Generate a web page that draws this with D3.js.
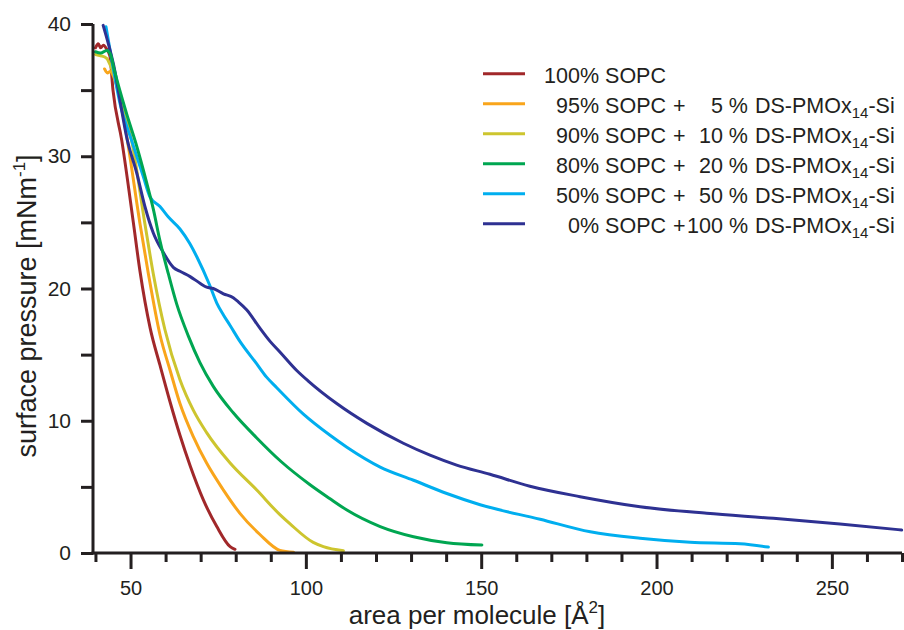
<!DOCTYPE html>
<html>
<head>
<meta charset="utf-8">
<script src="https://cdn.jsdelivr.net/npm/d3@7"></script>
<style>
  html, body { margin: 0; padding: 0; background: #fff; }
  svg text { font-family: "Liberation Sans", Arial, sans-serif; fill: #231f20; }
</style>
</head>
<body>
<svg id="chart" width="904" height="630"></svg>
<script>
// ---------------- data ----------------
const sopcPct = [100, 95, 90, 80, 50, 0];
const dsPct   = [null, 5, 10, 20, 50, 100];
const seriesColors = ["#a1282a", "#f9a51b", "#cdc52e", "#00a651", "#00aeef", "#2e3192"];

const sopc100X = [40.0, 40.8, 41.5, 42.3, 43.2, 44.1, 45.0, 47.5, 50.8, 52.7, 55.6, 58.4, 61.3, 64.1, 67.0, 70.8, 74.6, 78.4, 79.8];
const sopc100Y = [38.2, 38.5, 38.2, 38.4, 38.1, 37.6, 35.0, 31.2, 25.0, 21.3, 17.0, 14.2, 11.4, 8.9, 6.6, 4.0, 2.0, 0.48, 0.28];

const ds5X = [42.6, 43.4, 44.2, 45.5, 47.0, 49.1, 52.7, 55.1, 58.4, 61.3, 64.1, 67.9, 71.7, 76.5, 81.2, 86.9, 92.6, 96.5];
const ds5Y = [36.6, 36.3, 36.4, 35.8, 34.4, 31.2, 24.9, 21.1, 16.5, 13.8, 11.3, 8.8, 6.8, 4.76, 3.0, 1.4, 0.2, 0.05];

const ds10X = [40.0, 41.5, 43.2, 44.2, 45.5, 47.0, 50.3, 54.1, 56.5, 59.8, 64.1, 67.9, 71.7, 78.4, 86.0, 92.6, 95.5, 102.1, 105.0, 110.7];
const ds10Y = [37.7, 37.6, 37.4, 36.9, 35.9, 34.3, 31.2, 24.9, 21.1, 16.9, 13.1, 10.8, 9.1, 6.8, 4.76, 2.9, 2.2, 0.8, 0.48, 0.17];

const ds20X = [40.0, 41.5, 43.2, 44.3, 45.3, 48.9, 51.5, 54.6, 56.5, 58.4, 60.8, 63.2, 66.5, 69.8, 73.6, 79.3, 86.0, 93.0, 101.0, 106.9, 111.7, 121.2, 130.7, 140.2, 150.2];
const ds20Y = [37.9, 37.8, 38.0, 37.7, 36.6, 33.2, 31.0, 28.0, 26.0, 23.6, 21.1, 18.8, 16.4, 14.4, 12.6, 10.6, 8.7, 6.9, 5.2, 4.1, 3.25, 2.0, 1.23, 0.78, 0.6];

const ds50X = [43.0, 44.5, 47.0, 50.3, 53.6, 55.6, 58.4, 60.8, 64.1, 66.9, 68.9, 72.5, 74.6, 76.5, 78.4, 81.2, 86.0, 88.8, 91.7, 99.3, 106.9, 111.7, 121.2, 130.7, 140.2, 149.7, 166.8, 181.1, 195.3, 209.6, 223.8, 231.9];
const ds50Y = [39.8, 37.5, 34.0, 31.2, 28.5, 26.9, 26.2, 25.4, 24.5, 23.4, 22.4, 20.3, 18.9, 18.0, 17.2, 16.0, 14.3, 13.3, 12.5, 10.5, 8.9, 8.0, 6.5, 5.5, 4.5, 3.65, 2.55, 1.6, 1.11, 0.81, 0.7, 0.45];

const ds100X = [42.2, 45.1, 49.1, 51.8, 54.1, 56.5, 59.4, 62.2, 64.1, 67.0, 69.8, 71.7, 73.6, 76.5, 79.3, 80.7, 83.1, 86.9, 89.8, 92.6, 97.4, 100.7, 108.8, 117.4, 127.8, 135.4, 143.0, 152.5, 163.9, 178.2, 195.3, 214.3, 233.3, 252.3, 269.9];
const ds100Y = [39.9, 37.0, 31.2, 28.7, 26.2, 24.2, 22.7, 21.6, 21.3, 20.9, 20.4, 20.1, 20.0, 19.6, 19.3, 19.0, 18.4, 17.0, 16.0, 15.2, 13.8, 13.0, 11.3, 9.8, 8.3, 7.4, 6.65, 5.95, 5.05, 4.26, 3.5, 3.0, 2.62, 2.19, 1.74];

const seriesX = [sopc100X, ds5X, ds10X, ds20X, ds50X, ds100X];
const seriesY = [sopc100Y, ds5Y, ds10Y, ds20Y, ds50Y, ds100Y];

const xMajorTicks = [50, 100, 150, 200, 250];
const xMinorTicks = [40, 60, 70, 80, 90, 110, 120, 130, 140, 160, 170, 180, 190, 210, 220, 230, 240, 260, 270];
const yMajorTicks = [0, 10, 20, 30, 40];
const yMinorTicks = [5, 15, 25, 35];

// ---------------- layout ----------------
const svg = d3.select("#chart");
const ink = "#231f20";
const x = d3.scaleLinear().domain([39.3, 270]).range([93, 902]);
const y = d3.scaleLinear().domain([0, 40]).range([553, 24]);

// curves
const line = d3.line().x(d => x(d[0])).y(d => y(d[1])).curve(d3.curveMonotoneX);
const order = [0, 1, 2, 4, 5, 3];
order.forEach(i => {
  const pts = seriesX[i].map((v, k) => [v, seriesY[i][k]]);
  svg.append("path")
    .attr("d", line(pts))
    .attr("fill", "none")
    .attr("stroke", seriesColors[i])
    .attr("stroke-width", 3)
    .attr("stroke-linejoin", "round")
    .attr("stroke-linecap", "round");
});

// axes
const gx = svg.append("g").attr("transform", "translate(0,553)");
gx.call(d3.axisBottom(x).tickValues(xMajorTicks).tickSize(16).tickPadding(12).tickFormat(d3.format("d")));
const gxMinor = svg.append("g").attr("transform", "translate(0,553)");
gxMinor.call(d3.axisBottom(x).tickValues(xMinorTicks).tickSize(9).tickFormat(""));
const gy = svg.append("g").attr("transform", "translate(93,0)");
gy.call(d3.axisLeft(y).tickValues(yMajorTicks).tickSize(12).tickPadding(10).tickFormat(d3.format("d")));
const gyMinor = svg.append("g").attr("transform", "translate(93,0)");
gyMinor.call(d3.axisLeft(y).tickValues(yMinorTicks).tickSize(12).tickFormat(""));

[gx, gxMinor, gy, gyMinor].forEach(g => {
  g.selectAll(".domain").attr("stroke", ink).attr("stroke-width", 3);
  g.selectAll(".tick line").attr("stroke", ink).attr("stroke-width", 3);
});
gxMinor.select(".domain").remove();
gyMinor.select(".domain").remove();
gx.select(".domain").attr("d", `M${x.range()[0] - 1.5},0H${x.range()[1]}`);
gy.select(".domain").attr("d", `M0,${y.range()[1]}V${y.range()[0] + 1.5}`);
gx.selectAll(".tick text").attr("font-size", 20).attr("fill", ink)
  .attr("font-family", "Liberation Sans, Arial, sans-serif");
gy.selectAll(".tick text").attr("font-size", 21).attr("fill", ink)
  .attr("font-family", "Liberation Sans, Arial, sans-serif");

// axis titles
const xt = svg.append("text").attr("x", 477).attr("y", 624).attr("text-anchor", "middle").attr("font-size", 26);
xt.append("tspan").text("area per molecule [Å");
xt.append("tspan").attr("font-size", 17).attr("dy", -11).text("2");
xt.append("tspan").attr("dy", 11).text("]");

const yt = svg.append("text").attr("transform", "translate(36,306) rotate(-90)").attr("text-anchor", "middle").attr("font-size", 27);
yt.append("tspan").text("surface pressure [mNm");
yt.append("tspan").attr("font-size", 17).attr("dy", -11).text("-1");
yt.append("tspan").attr("dy", 11).text("]");

// legend
const legY0 = 73.7, legDy = 30;
sopcPct.forEach((s, i) => {
  const ly = legY0 + i * legDy;
  svg.append("line").attr("x1", 483).attr("x2", 525).attr("y1", ly).attr("y2", ly)
    .attr("stroke", seriesColors[i]).attr("stroke-width", 3);
  const base = ly + 9.3;
  svg.append("text").attr("x", 666).attr("y", base).attr("text-anchor", "end").attr("font-size", 21.5)
    .text(`${s}% SOPC`);
  if (dsPct[i] !== null) {
    svg.append("text").attr("x", 673).attr("y", base).attr("font-size", 21.5).text("+");
    svg.append("text").attr("x", 748).attr("y", base).attr("text-anchor", "end").attr("font-size", 21.5)
      .text(`${dsPct[i]} %`);
    const t = svg.append("text").attr("x", 755).attr("y", base).attr("font-size", 21.5);
    t.append("tspan").text("DS-PMOx");
    t.append("tspan").attr("font-size", 15).attr("dy", 5).text("14");
    t.append("tspan").attr("dy", -5).text("-Si");
  }
});
</script>
</body>
</html>
